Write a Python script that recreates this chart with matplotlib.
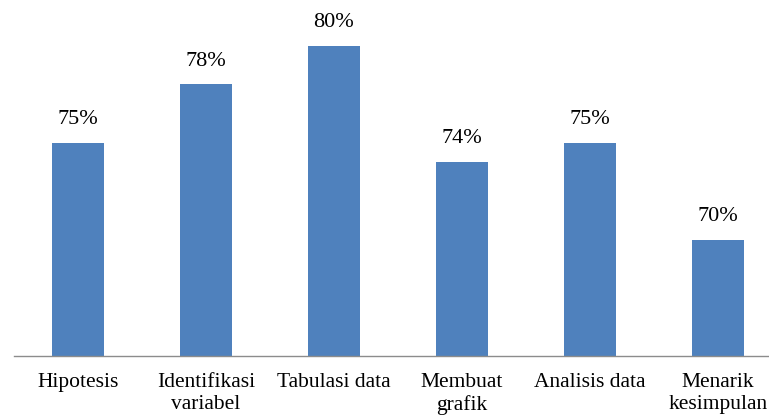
import matplotlib
matplotlib.use("Agg")
import matplotlib.pyplot as plt

categories = ["Hipotesis", "Identifikasi\nvariabel", "Tabulasi data", "Membuat\ngrafik", "Analisis data", "Menarik\nkesimpulan"]
values = [75, 78, 80, 74, 75, 70]
value_labels = ["75%", "78%", "80%", "74%", "75%", "70%"]

plt.rcParams['font.family'] = ['Liberation Serif', 'DejaVu Serif']

W, H = 769, 418
fig = plt.figure(figsize=(W/100, H/100), dpi=100)
ymin, ymax = 64, 82
px_per = 19.4
bottom_px = 356
top_px = bottom_px - (ymax - ymin) * px_per
ax = fig.add_axes([14/W, (H - bottom_px)/H, 768/W, (bottom_px - top_px)/H])

x = list(range(len(categories)))
ax.bar(x, values, width=0.4, color="#4F81BD", bottom=0)
ax.set_ylim(ymin, ymax)
ax.set_xlim(-0.5, len(categories) - 0.5)

for xi, v, lab in zip(x, values, value_labels):
    ax.annotate(lab, (xi, v), xytext=(0, 10), textcoords="offset points",
                ha="center", va="bottom", fontsize=16, color="#000000")

ax.set_xticks(x)
ax.set_xticklabels(categories, fontsize=15.5, linespacing=1.25)
ax.tick_params(axis='x', length=0, pad=12)
ax.set_yticks([])
for s in ["top", "right", "left"]:
    ax.spines[s].set_visible(False)
ax.spines["bottom"].set_color("#8C8C8C")
ax.spines["bottom"].set_linewidth(1.0)

fig.savefig("out.png", dpi=100)
